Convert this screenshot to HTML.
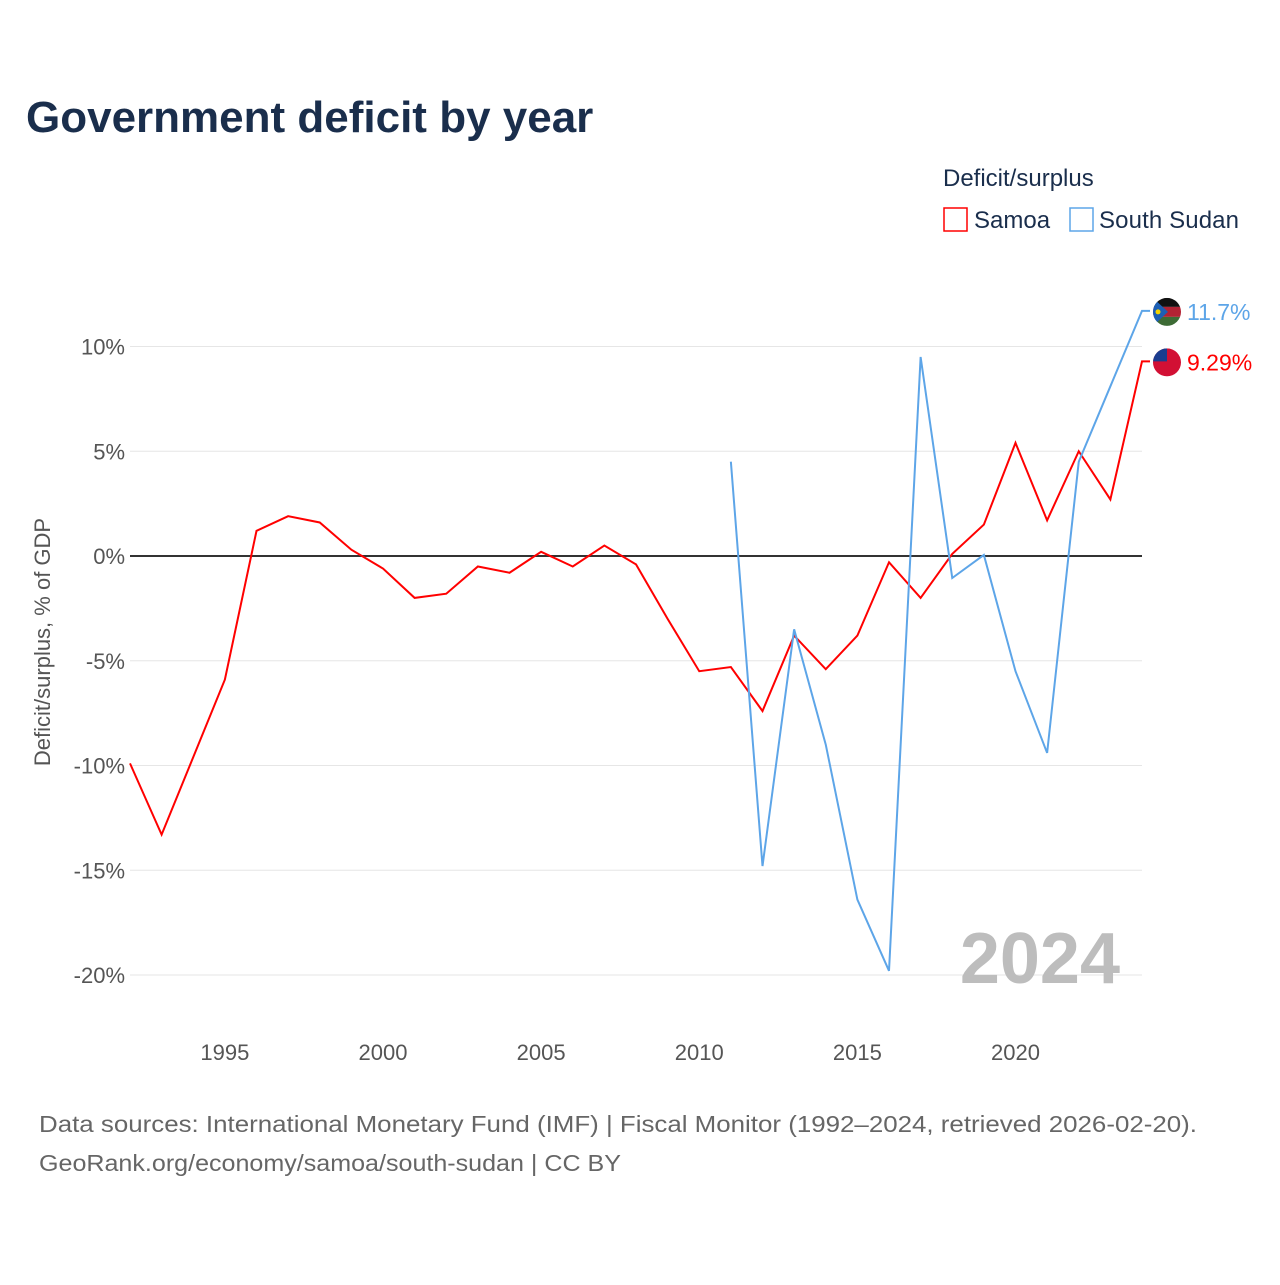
<!DOCTYPE html>
<html><head><meta charset="utf-8"><style>
body{margin:0;background:#fff;font-family:"Liberation Sans",sans-serif}
</style></head><body>
<svg width="1280" height="1280" xmlns="http://www.w3.org/2000/svg" font-family="Liberation Sans, sans-serif" id="chart">
<defs>
<clipPath id="c1"><circle cx="1167" cy="312" r="14"/></clipPath>
<clipPath id="c2"><circle cx="1167" cy="362" r="14"/></clipPath>
</defs>
<text x="26" y="132" font-size="44" font-weight="bold" fill="#1a2e4c">Government deficit by year</text>
<text x="943" y="186" font-size="24" fill="#1a2e4c">Deficit/surplus</text>
<g><rect x="944" y="208" width="23" height="23" fill="none" stroke="#f00" stroke-width="1.5"/><text x="974" y="228" font-size="24" fill="#1a2e4c">Samoa</text></g>
<g><rect x="1070" y="208" width="23" height="23" fill="none" stroke="#5da5e8" stroke-width="1.5"/><text x="1099" y="228" font-size="24" fill="#1a2e4c" textLength="140">South Sudan</text></g>
<g id="grid"></g><g id="yt"></g><g id="xt"></g><g id="lines"></g>
<text x="1120" y="983" font-size="72" font-weight="bold" fill="#bdbdbd" text-anchor="end">2024</text>
<text transform="translate(50,642) rotate(-90)" font-size="22" fill="#555" text-anchor="middle">Deficit/surplus, % of GDP</text>
<text x="39" y="1132" font-size="23" fill="#666" textLength="1158" lengthAdjust="spacingAndGlyphs">Data sources: International Monetary Fund (IMF) | Fiscal Monitor (1992–2024, retrieved 2026-02-20).</text>
<text x="39" y="1171" font-size="23" fill="#666" textLength="582" lengthAdjust="spacingAndGlyphs">GeoRank.org/economy/samoa/south-sudan | CC BY</text>
</svg>
<script>
const years=[1992,1993,1994,1995,1996,1997,1998,1999,2000,2001,2002,2003,2004,2005,2006,2007,2008,2009,2010,2011,2012,2013,2014,2015,2016,2017,2018,2019,2020,2021,2022,2023,2024];
const samoa=[-9.9,-13.3,-9.6,-5.9,1.2,1.9,1.6,0.3,-0.6,-2.0,-1.8,-0.5,-0.8,0.2,-0.5,0.5,-0.4,-3.0,-5.5,-5.3,-7.4,-3.8,-5.4,-3.8,-0.3,-2.0,0.1,1.5,5.4,1.7,5.0,2.7,9.29];
const ssYears=[2011,2012,2013,2014,2015,2016,2017,2018,2019,2020,2021,2022,2023,2024];
const sudan=[4.5,-14.8,-3.5,-9.0,-16.4,-19.8,9.5,-1.05,0.05,-5.5,-9.4,4.5,8.1,11.7];
const yTicks=[10,5,0,-5,-10,-15,-20];
const xTicks=[1995,2000,2005,2010,2015,2020];
const X=y=>130+(y-1992)*(1142-130)/32;
const Y=v=>556-v*20.95;
const NS="http://www.w3.org/2000/svg";
function mk(t,a,p){const e=document.createElementNS(NS,t);for(const k in a)e.setAttribute(k,a[k]);p.appendChild(e);return e;}
const g=document.getElementById('grid'),yt=document.getElementById('yt'),xt=document.getElementById('xt'),L=document.getElementById('lines');
yTicks.forEach(v=>{
const l=mk('line',{x1:130,x2:1142,y1:Y(v),y2:Y(v),stroke:v==0?'#333':'#e6e6e6','stroke-width':v==0?2:1},g);


const t=mk('text',{x:125,y:Y(v)+8,'font-size':22,fill:'#555','text-anchor':'end'},yt);t.textContent=v+'%';


});
xTicks.forEach(v=>{
const t=mk('text',{x:X(v),y:1060,'font-size':22,fill:'#555','text-anchor':'middle'},xt);t.textContent=v;


});
function series(xs,vs,c,name,label){
let d=xs.map((x,i)=>(i?'L':'M')+X(x)+','+Y(vs[i])).join(' ');
const ly=Y(vs[vs.length-1]);
d+=' L1150,'+ly;
const p=mk('path',{d:d,fill:'none',stroke:c,'stroke-width':2},L);


const fg=mk('g',{transform:'translate(0,'+(ly+1-(name=='samoa'?362:312))+')'},L);


if(name=='samoa'){
 const cl=mk('g',{'clip-path':'url(#c2)'},fg);
 mk('rect',{x:1153,y:348,width:28,height:28,fill:'#d21034'},cl);
 mk('rect',{x:1153,y:348,width:14,height:13,fill:'#1a3d8f'},cl);
}else{
 const cl=mk('g',{'clip-path':'url(#c1)'},fg);
 mk('rect',{x:1153,y:298,width:28,height:9,fill:'#111'},cl);
 mk('rect',{x:1153,y:307,width:28,height:10,fill:'#b22234'},cl);
 mk('rect',{x:1153,y:317,width:28,height:11,fill:'#3d6b35'},cl);
 mk('polygon',{points:'1153,298 1168,312 1153,326',fill:'#1c5fb5'},cl);
 mk('circle',{cx:1158,cy:312,r:2.5,fill:'#f5d400'},cl);
}
const t=mk('text',{x:1187,y:ly+9,'font-size':23,fill:c},L);t.textContent=label;


}
series(years,samoa,'#f00','samoa','9.29%');
series(ssYears,sudan,'#5da5e8','south-sudan','11.7%');
</script>
</body></html>
